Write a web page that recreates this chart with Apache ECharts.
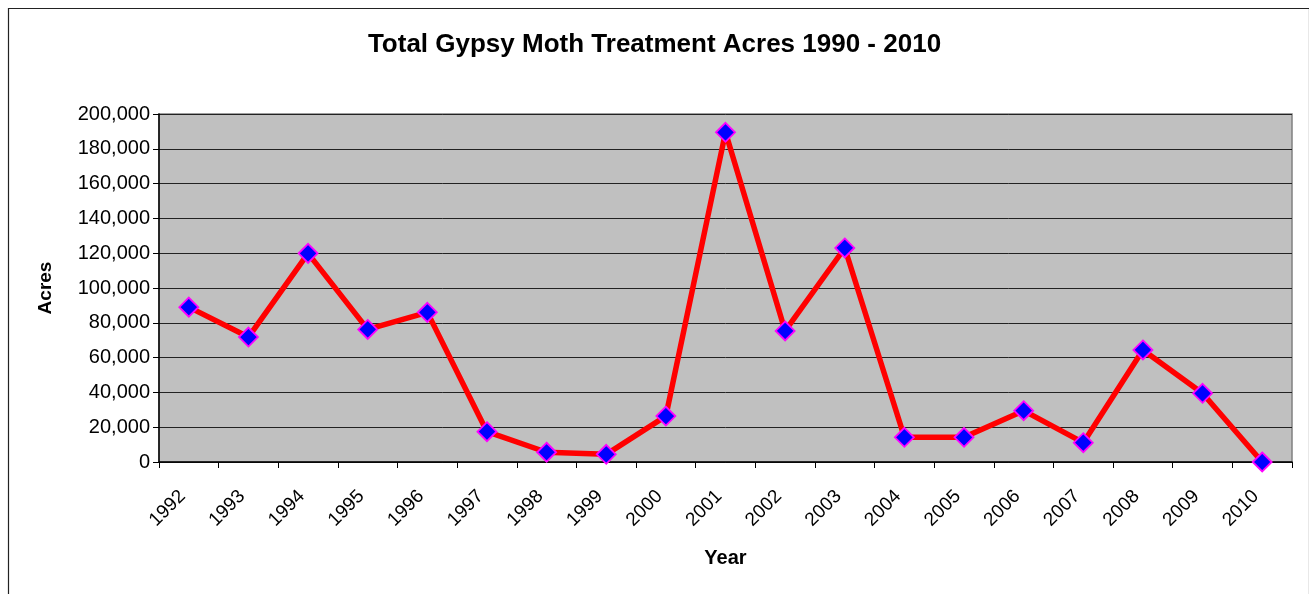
<!DOCTYPE html>
<html>
<head>
<meta charset="utf-8" />
<title>Total Gypsy Moth Treatment Acres 1990 - 2010</title>
<script src="https://cdn.jsdelivr.net/npm/echarts@6/dist/echarts.min.js"></script>
<style>
  html, body { margin: 0; padding: 0; background: #fff; }
  #main { width: 1309px; height: 594px; }
</style>
</head>
<body>
<div id="main"></div>
<script type="text/javascript">
// data
var years = ['1992','1993','1994','1995','1996','1997','1998','1999','2000','2001',
             '2002','2003','2004','2005','2006','2007','2008','2009','2010'];
var acres = [89000, 71800, 119900, 76200, 86000, 17400, 5600, 4400, 26400, 189500,
             75300, 123000, 14200, 14200, 29500, 11100, 64400, 39500, 0];
var yTicks = [0, 200000, 20000]; // min, max, step

var chart = echarts.init(document.getElementById('main'));

var option = {
    animation: false,
    textStyle: { fontFamily: '"Liberation Sans", Arial, sans-serif' },
    title: {
        text: 'Total Gypsy Moth Treatment Acres 1990 - 2010',
        left: 'center',
        top: 27,
        textStyle: { fontSize: 26, fontWeight: 'bold', color: '#000' }
    },
    graphic: [{
        type: 'rect',
        left: 6, top: 6,
        shape: { width: 1301, height: 600 },
        style: { fill: 'none', stroke: '#222', lineWidth: 1.2 },
        silent: true
    }],
    grid: {
        left: 159, right: 17, top: 114, bottom: 132,
        show: true,
        backgroundColor: '#c0c0c0',
        borderColor: '#808080',
        borderWidth: 1.5
    },
    xAxis: {
        type: 'category',
        data: years,
        boundaryGap: true,
        name: 'Year',
        nameLocation: 'middle',
        nameGap: 86,
        nameTextStyle: { fontSize: 20, fontWeight: 'bold', color: '#000' },
        axisLine: { lineStyle: { color: '#000', width: 1.5 } },
        axisTick: { show: true, length: 6, alignWithLabel: false, lineStyle: { color: '#000' } },
        axisLabel: { rotate: 45, fontSize: 19, color: '#000', margin: 25, padding: [0, 9, 0, 0], interval: 0 }
    },
    yAxis: {
        type: 'value',
        min: yTicks[0],
        max: yTicks[1],
        interval: yTicks[2],
        name: 'Acres',
        nameLocation: 'middle',
        nameGap: 104,
        nameRotate: 90,
        nameTextStyle: { fontSize: 19, fontWeight: 'bold', color: '#000' },
        axisLine: { show: true, lineStyle: { color: '#000', width: 1.5 } },
        axisTick: { show: true, length: 6, lineStyle: { color: '#000' } },
        axisLabel: {
            fontSize: 20, color: '#000', margin: 9,
            formatter: function (v) { return v.toLocaleString('en-US'); }
        },
        splitLine: { show: true, lineStyle: { color: '#222', width: 1 } }
    },
    series: [{
        name: 'Acres',
        type: 'line',
        data: acres,
        symbol: 'diamond',
        symbolSize: 19,
        lineStyle: { color: '#ff0000', width: 5.5 },
        itemStyle: { color: '#0000ff', borderColor: '#ff00ff', borderWidth: 1.8 },
        z: 5
    }]
};

chart.setOption(option);
</script>
</body>
</html>
